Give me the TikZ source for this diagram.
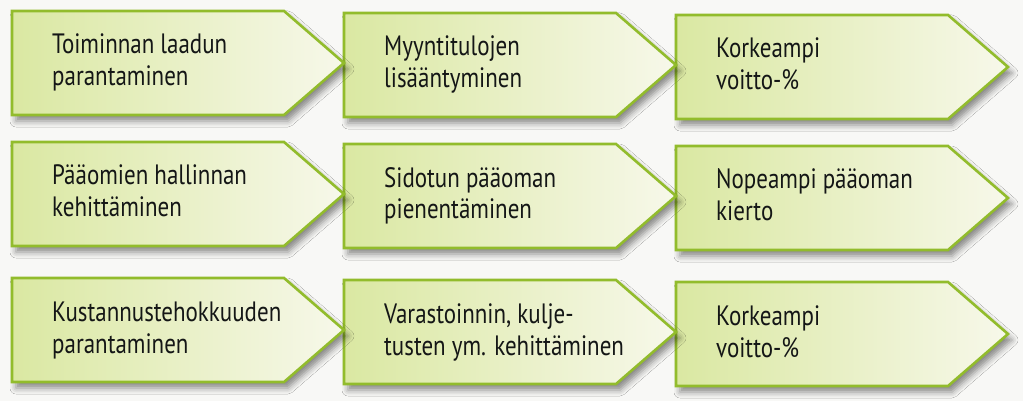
\documentclass[tikz,border=0pt]{standalone}
\usepackage{fontspec}
\setmainfont[FakeStretch=0.82]{PT Sans}
\usetikzlibrary{shadows.blur}
\definecolor{chevborder}{RGB}{146,188,44}
\definecolor{chevleft}{RGB}{218,232,162}
\definecolor{chevright}{RGB}{247,248,234}
\definecolor{chevink}{RGB}{20,22,22}
\definecolor{pagebg}{RGB}{248,248,246}
\tikzset{
  chevron/.style={draw=chevborder, line width=2.6pt, line join=miter,
    left color=chevleft, right color=chevright,
    blur shadow={shadow xshift=4pt, shadow yshift=-6pt, shadow blur radius=6pt, shadow opacity=45}},
  chevtext/.style={anchor=base west, inner sep=0pt, font=\fontsize{28}{32}\selectfont, text=chevink}
}
% #1 name, #2 left x, #3 top y, #4 line 1, #5 line 2
\newcommand\chevbox[5]{%
  \path[chevron] (#2,#3) -- ++(272,0) -- ++(60,52) -- ++(-60,52) -- ++(-272,0) -- cycle;
  \node[chevtext] (#1) at (#2+40,#3+43) {\begin{tabular}[t]{@{}l@{}}#4\\#5\end{tabular}};
}
\begin{document}
\begin{tikzpicture}[x=1pt,y=-1pt]
  \fill[pagebg] (0,0) rectangle (1023,401);
  \useasboundingbox (0,0) rectangle (1023,401);
  % column 3
  \chevbox{c1}{676}{15}{Korkeampi}{voitto-\%}
  \chevbox{c2}{676}{146}{Nopeampi pääoman}{kierto}
  \chevbox{c3}{676}{282}{Korkeampi}{voitto-\%}
  % column 2
  \chevbox{b1}{344}{13}{Myyntitulojen}{lisääntyminen}
  \chevbox{b2}{344}{144}{Sidotun pääoman}{pienentäminen}
  \chevbox{b3}{344}{280}{Varastoinnin, kulje-}{tusten ym. kehittäminen}
  % column 1
  \chevbox{a1}{12}{11}{Toiminnan laadun}{parantaminen}
  \chevbox{a2}{12}{142}{Pääomien hallinnan}{kehittäminen}
  \chevbox{a3}{12}{278}{Kustannustehokkuuden}{parantaminen}
\end{tikzpicture}
\end{document}
